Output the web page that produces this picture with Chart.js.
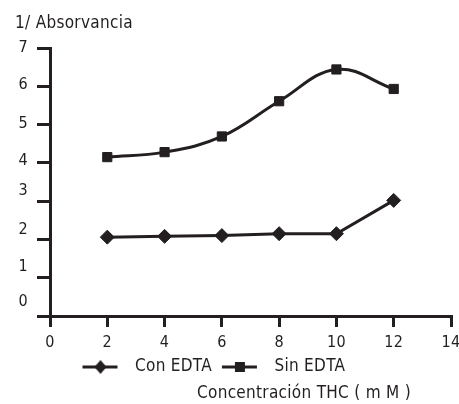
<!DOCTYPE html>
<html>
<head>
<meta charset="utf-8">
<script src="https://cdn.jsdelivr.net/npm/chart.js@4.4.0/dist/chart.umd.min.js"></script>
<style>
  html, body { margin: 0; padding: 0; background: #fff; }
</style>
</head>
<body>
<canvas id="absChart" width="459" height="404"></canvas>
<script>
// data
const concentraciones = [2, 4, 6, 8, 10, 12];
const conEdta = [2.06, 2.08, 2.10, 2.15, 2.15, 3.02];
const sinEdta = [4.15, 4.28, 4.69, 5.61, 6.44, 5.93];
const xTicks = [0, 2, 4, 6, 8, 10, 12, 14];
const yTicks = [0, 1, 2, 3, 4, 5, 6, 7];
const seriesNames = ['Con EDTA', 'Sin EDTA'];
const yTitle = '1/ Absorvancia';
const xTitle = 'Concentración THC ( m M )';

const ink = '#231f20';
const fam = "'DejaVu Sans Condensed', 'Liberation Sans Narrow', sans-serif";
Chart.defaults.font.family = fam;
Chart.defaults.color = ink;

// the original's y labels sit a bit above their ticks, more so at the bottom (px)
const yLabelLift = [14, 10.5, 10, 10, 2, 1, 1, 0];

// little line+marker pictures for the legend
function legendMarker(kind) {
    const c = document.createElement('canvas');
    c.width = 48;
    c.height = 20;
    const g = c.getContext('2d');
    g.strokeStyle = ink;
    g.fillStyle = ink;
    g.lineWidth = 3;
    g.beginPath();
    g.moveTo(2, 10);
    g.lineTo(37, 10);
    g.stroke();
    if (kind === 'diamond') {
        g.beginPath();
        g.moveTo(20, 3);
        g.lineTo(26, 10);
        g.lineTo(20, 17);
        g.lineTo(14, 10);
        g.closePath();
        g.fill();
    } else {
        g.fillRect(15, 5, 10, 10);
    }
    return c;
}
const markers = [legendMarker('diamond'), legendMarker('square')];

const tweaks = {
    id: 'tweaks',
    beforeUpdate(chart) { chart.ctx.letterSpacing = '0.3px'; },
    beforeDraw(chart) { chart.ctx.letterSpacing = '0.3px'; },
    afterLayout(chart) {
        // legend sits left of centre, axis title right of centre
        const lg = chart.legend;
        const dx = 82.5 - (lg.left + lg.options.labels.padding);
        lg.left += dx;
        lg.right += dx;
        const sub = chart.boxes.find(b => b.options && b.options.text === xTitle);
        if (sub) {
            const d2 = 197 - sub.left;
            sub.left += d2;
            sub.right += d2;
        }
    }
};

const ctx = document.getElementById('absChart').getContext('2d');
new Chart(ctx, {
    type: 'line',
    data: {
        datasets: [
            {
                label: seriesNames[0],
                data: concentraciones.map((x, i) => ({x: x, y: conEdta[i]})),
                borderColor: ink,
                backgroundColor: ink,
                borderWidth: 3,
                pointStyle: 'rectRot',
                pointRadius: 7,
                pointBorderWidth: 1,
                pointBackgroundColor: ink,
                tension: 0
            },
            {
                label: seriesNames[1],
                data: concentraciones.map((x, i) => ({x: x, y: sinEdta[i]})),
                borderColor: ink,
                backgroundColor: ink,
                borderWidth: 3,
                pointStyle: 'rect',
                pointRadius: 6.5,
                pointBorderWidth: 1,
                pointBackgroundColor: ink,
                tension: 0.4
            }
        ]
    },
    options: {
        responsive: false,
        animation: false,
        layout: {padding: {left: 15, right: 0, top: 0, bottom: 0}},
        scales: {
            x: {
                type: 'linear',
                min: 0,
                max: 14,
                afterBuildTicks: s => { s.ticks = xTicks.map(v => ({value: v})); },
                afterFit: s => { s.height = 32.5; s.paddingRight = 6; },
                border: {color: ink, width: 3},
                grid: {drawOnChartArea: false, tickLength: 11, lineWidth: 3, color: ink},
                ticks: {color: ink, padding: 7.5, maxRotation: 0, autoSkip: false, font: {size: 16, lineHeight: 1}}
            },
            y: {
                min: 0,
                max: 7,
                afterBuildTicks: s => { s.ticks = yTicks.map(v => ({value: v})); },
                afterFit: s => { s.width = 35; },
                border: {color: ink, width: 3},
                grid: {drawOnChartArea: false, tickLength: 13, lineWidth: 3, color: ink},
                ticks: {
                    color: ink,
                    padding: 9,
                    autoSkip: false,
                    // an empty second line lifts the label by half a line height
                    callback: (v, i) => yLabelLift[i] ? [String(v), ''] : String(v),
                    font: c => ({
                        size: 16,
                        lineHeight: yLabelLift[c.index] ? (2 * yLabelLift[c.index]) + 'px' : 1
                    })
                }
            }
        },
        plugins: {
            title: {
                display: true,
                position: 'top',
                align: 'start',
                text: yTitle,
                color: ink,
                font: {size: 17, weight: 'normal', lineHeight: 1.2},
                padding: {top: 13.8, bottom: 13.8}
            },
            subtitle: {
                display: true,
                position: 'bottom',
                align: 'start',
                text: xTitle,
                color: ink,
                font: {size: 17, weight: 'normal', lineHeight: 1},
                padding: {top: 0, bottom: 1.5}
            },
            legend: {
                display: true,
                position: 'bottom',
                align: 'start',
                labels: {
                    usePointStyle: true,
                    pointStyleWidth: 44,
                    padding: 10,
                    color: ink,
                    font: {size: 17},
                    generateLabels: chart => chart.data.datasets.map((ds, i) => ({
                        text: ds.label,
                        pointStyle: markers[i],
                        fillStyle: ink,
                        strokeStyle: ink,
                        lineWidth: 0,
                        fontColor: ink,
                        hidden: false,
                        datasetIndex: i
                    }))
                }
            },
            tooltip: {enabled: false}
        }
    },
    plugins: [tweaks]
});
</script>
</body>
</html>
